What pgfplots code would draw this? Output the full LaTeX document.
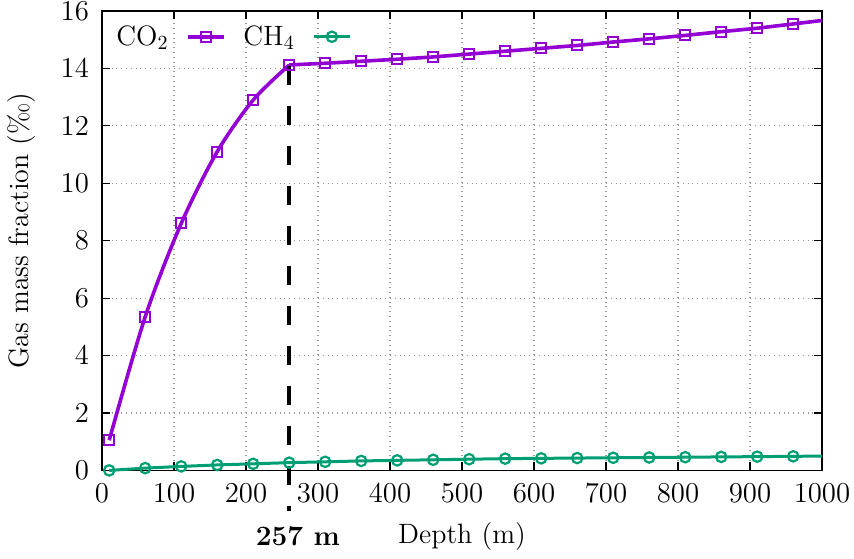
\documentclass[border=0pt]{standalone}
\usepackage{pgfplots}
\pgfplotsset{compat=1.18}
\definecolor{cviolet}{HTML}{9400D3}
\definecolor{cgreen}{HTML}{009E73}
\newcommand{\bigf}{\fontsize{14}{17}\selectfont}
\begin{document}
\begin{tikzpicture}
\useasboundingbox (-51pt,-44pt) rectangle (376pt,235.2pt);
\begin{axis}[
  at={(0,0)}, anchor=south west,
  scale only axis, width=360pt, height=229.7pt,
  xmin=0, xmax=1000, ymin=0, ymax=16,
  xtick={0,100,...,1000}, ytick={0,2,...,16},
  /pgf/number format/1000 sep={},
  tick align=inside, major tick length=4pt,
  tick style={black, line width=0.6pt},
  axis line style={line width=0.6pt},
  grid=major,
  major grid style={dotted, gray!80, line width=0.6pt},
  tick label style={font=\bigf},
  label style={font=\bigf},
  xlabel={Depth (m)},
  ylabel={Gas mass fraction (\textperthousand)},
  xlabel style={at={(axis description cs:0.5,0)}, anchor=center, yshift=-33pt},
  ylabel style={at={(axis description cs:0,0.5)}, anchor=center, yshift=40pt, xshift=5pt},
  xticklabel style={yshift=-3pt},
  yticklabel style={xshift=-3pt},
  clip=false,
  legend columns=2,
  legend plot pos=right,
  legend style={at={(axis description cs:0.0,1.0)}, anchor=north west, draw=none, fill=none,
    font=\bigf, inner sep=5pt,
    /tikz/every even column/.append style={column sep=7pt},
    /tikz/every odd column/.append style={column sep=7pt}},
  legend image code/.code={\draw[mark indices={2}] plot coordinates {(0cm,0cm) (0.31cm,0cm) (0.62cm,0cm)};},
]
\addplot[cviolet, line width=1.8pt, smooth, tension=0.5, mark=square, mark size=2.5pt, mark options={line width=1pt, solid}, forget plot]
coordinates {(10,1.05) (60,5.35) (110,8.6) (160,11.1) (210,12.9) (260,14.12)};
\addplot[cviolet, line width=1.8pt, mark=square, mark size=2.5pt, mark options={line width=1pt, solid}, mark indices={1,...,15}]
coordinates {(260,14.12) (310,14.18) (360,14.25) (410,14.32) (460,14.4) (510,14.5) (560,14.6) (610,14.7) (660,14.8) (710,14.92) (760,15.03) (810,15.15) (860,15.28) (910,15.4) (960,15.55) (1000,15.67)};
\addlegendentry{CO$_2$}
\addplot[cgreen, line width=1.5pt, mark=o, mark size=2.6pt, mark options={line width=1.1pt, solid}, mark indices={1,...,20}]
coordinates {(10,0.0) (60,0.08) (110,0.14) (160,0.19) (210,0.23) (260,0.27) (310,0.3) (360,0.33) (410,0.35) (460,0.37) (510,0.39) (560,0.41) (610,0.42) (660,0.43) (710,0.44) (760,0.45) (810,0.46) (860,0.47) (910,0.48) (960,0.49) (1000,0.5)};
\addlegendentry{CH$_4$}
\addplot[black, line width=2pt, dash pattern=on 9.5pt off 10.5pt, forget plot] coordinates {(260,14.1) (260,-1.43)};
\node[font=\bigf\bfseries, anchor=center] at (axis cs:272,-2.3) {257 m};
\end{axis}
\end{tikzpicture}
\end{document}
